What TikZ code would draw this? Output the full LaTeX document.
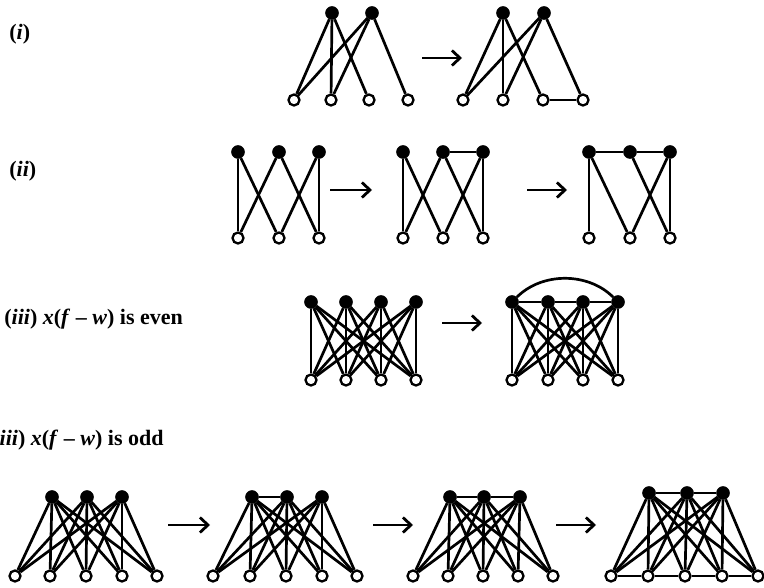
\documentclass[tikz,border=0pt]{standalone}
\usepackage{fontspec}
\setmainfont{Liberation Serif}
\usetikzlibrary{arrows.meta}

\begin{document}
\begin{tikzpicture}[
    x=1pt, y=-1pt,
    line width=2.7pt,
    filled/.style={circle, fill=black, draw=black, line width=0.5pt, minimum size=13pt, inner sep=0pt},
    hollow/.style={circle, fill=white, draw=black, line width=2.3pt, minimum size=11pt, inner sep=0pt},
    maparrow/.style={line width=2.8pt, -{Straight Barb[length=8pt, width=15pt, line width=2.8pt]}},
    caption/.style={font=\fontsize{22}{25}\selectfont\bfseries, anchor=base west, inner sep=0pt},
  ]
  \useasboundingbox (0,0) rectangle (764,588);

  % ============================================================
  % (i)
  % ============================================================
  \node[caption] (capi) at (8,40) {(\textit{i})};

  \foreach \i/\x in {1/332, 2/372} \node[filled] (ia-b\i) at (\x,13) {};
  \foreach \i/\x in {1/294, 2/331, 3/369, 4/408} \node[hollow] (ia-w\i) at (\x,100) {};
  \foreach \b/\w in {1/1, 1/2, 1/3, 2/1, 2/2, 2/4}
    \draw (ia-b\b) -- (ia-w\w);

  \coordinate (ar1s) at (422,58);
  \coordinate (ar1e) at (462,58);
  \draw[maparrow] (ar1s) -- (ar1e);

  \foreach \i/\x in {1/503, 2/544} \node[filled] (ib-b\i) at (\x,13) {};
  \foreach \i/\x in {1/463, 2/503, 3/543, 4/583} \node[hollow] (ib-w\i) at (\x,100) {};
  \foreach \b/\w in {1/1, 1/2, 1/3, 2/1, 2/2, 2/4}
    \draw (ib-b\b) -- (ib-w\w);
  \draw (ib-w3) -- (ib-w4);

  % ============================================================
  % (ii)
  % ============================================================
  \node[caption] (capii) at (8,177) {(\textit{ii})};

  \foreach \i/\x in {1/238, 2/279, 3/319} {
    \node[filled] (iia-b\i) at (\x,152) {};
    \node[hollow] (iia-w\i) at (\x,238) {};
  }
  \foreach \b/\w in {1/1, 1/2, 2/1, 2/3, 3/2, 3/3}
    \draw (iia-b\b) -- (iia-w\w);

  \coordinate (ar2s) at (330,190);
  \coordinate (ar2e) at (372,190);
  \draw[maparrow] (ar2s) -- (ar2e);

  \foreach \i/\x in {1/403, 2/443, 3/483} {
    \node[filled] (iib-b\i) at (\x,152) {};
    \node[hollow] (iib-w\i) at (\x,238) {};
  }
  \foreach \b/\w in {1/1, 1/2, 2/1, 2/3, 3/2, 3/3}
    \draw (iib-b\b) -- (iib-w\w);
  \draw (iib-b2) -- (iib-b3);

  \coordinate (ar3s) at (527,190);
  \coordinate (ar3e) at (567,190);
  \draw[maparrow] (ar3s) -- (ar3e);

  \foreach \i/\x in {1/589, 2/630, 3/670} {
    \node[filled] (iic-b\i) at (\x,152) {};
    \node[hollow] (iic-w\i) at (\x,238) {};
  }
  \foreach \b/\w in {1/1, 1/2, 2/3, 3/2, 3/3}
    \draw (iic-b\b) -- (iic-w\w);
  \draw (iic-b1) -- (iic-b2) -- (iic-b3);

  % ============================================================
  % (iii) even
  % ============================================================
  \node[caption] (capev) at (3,325)
    {(\textit{iii}) \textit{x}(\textit{f} – \textit{w}) is even};

  \foreach \i/\x in {1/311, 2/346, 3/381, 4/416} {
    \node[filled] (eva-b\i) at (\x,302) {};
    \node[hollow] (eva-w\i) at (\x,380) {};
  }
  \foreach \b in {1,...,4}
    \foreach \w in {1,...,4}
      \draw (eva-b\b) -- (eva-w\w);

  \coordinate (ar4s) at (442,323);
  \coordinate (ar4e) at (482,323);
  \draw[maparrow] (ar4s) -- (ar4e);

  \foreach \i/\x in {1/512, 2/548, 3/583, 4/618} {
    \node[filled] (evb-b\i) at (\x,302) {};
    \node[hollow] (evb-w\i) at (\x,380) {};
  }
  \foreach \b in {1,...,4}
    \foreach \w in {1,...,4}
      \draw (evb-b\b) -- (evb-w\w);
  \draw (evb-b1) -- (evb-b2) -- (evb-b3) -- (evb-b4);
  \draw (evb-b1) .. controls +(30,-30) and +(-30,-30) .. (evb-b4);

  % ============================================================
  % (iii) odd
  % ============================================================
  \node[caption] (capod) at (-9,445)
    {(\textit{iii}) \textit{x}(\textit{f} – \textit{w}) is odd};

  \foreach \i/\x in {1/52, 2/87, 3/122} \node[filled] (oda-b\i) at (\x,497) {};
  \foreach \i/\x in {1/15, 2/50, 3/86, 4/122, 5/157} \node[hollow] (oda-w\i) at (\x,576) {};
  \foreach \b in {1,...,3}
    \foreach \w in {1,...,5}
      \draw (oda-b\b) -- (oda-w\w);

  \coordinate (ar5s) at (168,525);
  \coordinate (ar5e) at (210,525);
  \draw[maparrow] (ar5s) -- (ar5e);

  \foreach \i/\x in {1/252, 2/287, 3/322} \node[filled] (odb-b\i) at (\x,497) {};
  \foreach \i/\x in {1/213, 2/250, 3/286, 4/322, 5/357} \node[hollow] (odb-w\i) at (\x,576) {};
  \foreach \b in {1,...,3}
    \foreach \w in {1,...,5}
      \draw (odb-b\b) -- (odb-w\w);
  \draw (odb-b1) -- (odb-b2);

  \coordinate (ar6s) at (373,525);
  \coordinate (ar6e) at (413,525);
  \draw[maparrow] (ar6s) -- (ar6e);

  \foreach \i/\x in {1/450, 2/484, 3/520} \node[filled] (odc-b\i) at (\x,497) {};
  \foreach \i/\x in {1/413, 2/448, 3/483, 4/518, 5/553} \node[hollow] (odc-w\i) at (\x,576) {};
  \foreach \b in {1,...,3}
    \foreach \w in {1,...,5}
      \draw (odc-b\b) -- (odc-w\w);
  \draw (odc-b1) -- (odc-b2) -- (odc-b3);

  \coordinate (ar7s) at (556,525);
  \coordinate (ar7e) at (596,525);
  \draw[maparrow] (ar7s) -- (ar7e);

  \foreach \i/\x in {1/649, 2/687, 3/723} \node[filled] (odd-b\i) at (\x,493) {};
  \foreach \i/\x in {1/611, 2/648, 3/685, 4/722, 5/758} \node[hollow] (odd-w\i) at (\x,576) {};
  \foreach \b in {1,...,3}
    \foreach \w in {1,...,5}
      \draw (odd-b\b) -- (odd-w\w);
  \draw (odd-b1) -- (odd-b2) -- (odd-b3);
  \draw (odd-w1) -- (odd-w2) -- (odd-w3) -- (odd-w4) -- (odd-w5);

\end{tikzpicture}
\end{document}
